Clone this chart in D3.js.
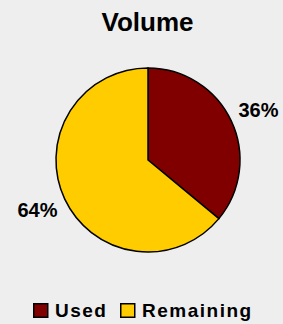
<!DOCTYPE html>
<html lang="en">
<head>
    <meta charset="utf-8">
    <title>Volume</title>
    <script src="https://cdn.jsdelivr.net/npm/d3@7"></script>
    <style type="text/css">
      body{
          margin: 0;
          background-color: #eeeeee;
      }
      text{
          font-family: "Liberation Sans", Arial, sans-serif;
          font-weight: bold;
          fill: #000;
      }
    </style>
</head>
<body>
  <script type="text/javascript">
    // data
    var categories = ["Used", "Remaining"];
    var shares = [36, 64];
    var colors = ["#800000", "#ffcc00"];

    var width = 283, height = 324;
    var cx = 148, cy = 160, radius = 92;
    var labelPad = 8, capH = 14.5;

    var svg = d3.select("body").append("svg")
        .attr("width", width).attr("height", height);

    // title
    svg.append("text")
        .attr("x", 147.5)
        .attr("y", 31)
        .attr("text-anchor", "middle")
        .style("font-size", "26px")
        .text("Volume");

    var data = categories.map(function(c, i){ return {name: c, value: shares[i], color: colors[i]}; });

    var pie = d3.pie().sort(null).value(function(d){ return d.value; });
    var arc = d3.arc().innerRadius(0).outerRadius(radius);

    var g = svg.append("g").attr("transform", "translate(" + cx + "," + cy + ")");

    var arcs = pie(data);

    g.selectAll("path")
        .data(arcs)
        .enter()
        .append("path")
        .attr("d", arc)
        .attr("fill", function(d){ return d.data.color; })
        .attr("stroke", "#000")
        .attr("stroke-width", 1.5);

    // outside-end labels: nearest corner of the label box sits just outside the rim
    g.selectAll("text.lbl")
        .data(arcs)
        .enter()
        .append("text")
        .attr("class", "lbl")
        .each(function(d){
            var a = (d.startAngle + d.endAngle) / 2;
            var r = radius + labelPad;
            var px = r * Math.sin(a), py = -r * Math.cos(a);
            d3.select(this)
              .attr("x", px)
              .attr("y", Math.cos(a) > 0 ? py : py + capH)
              .attr("text-anchor", Math.sin(a) >= 0 ? "start" : "end");
        })
        .style("font-size", "20px")
        .text(function(d){ return d.data.value + "%"; });

    // legend
    var legendX = [33, 120];
    var legend = svg.selectAll("g.legend")
        .data(data)
        .enter()
        .append("g")
        .attr("class", "legend")
        .attr("transform", function(d, i){ return "translate(" + legendX[i] + ",303)"; });

    legend.append("rect")
        .attr("x", 0.75).attr("y", 0.75)
        .attr("width", 14).attr("height", 13.5)
        .attr("fill", function(d){ return d.color; })
        .attr("stroke", "#000")
        .attr("stroke-width", 1.5);

    legend.append("text")
        .attr("x", 22)
        .attr("y", 14)
        .style("font-size", "19px")
        .style("letter-spacing", "1.5px")
        .text(function(d){ return d.name; });
  </script>
</body>
</html>
